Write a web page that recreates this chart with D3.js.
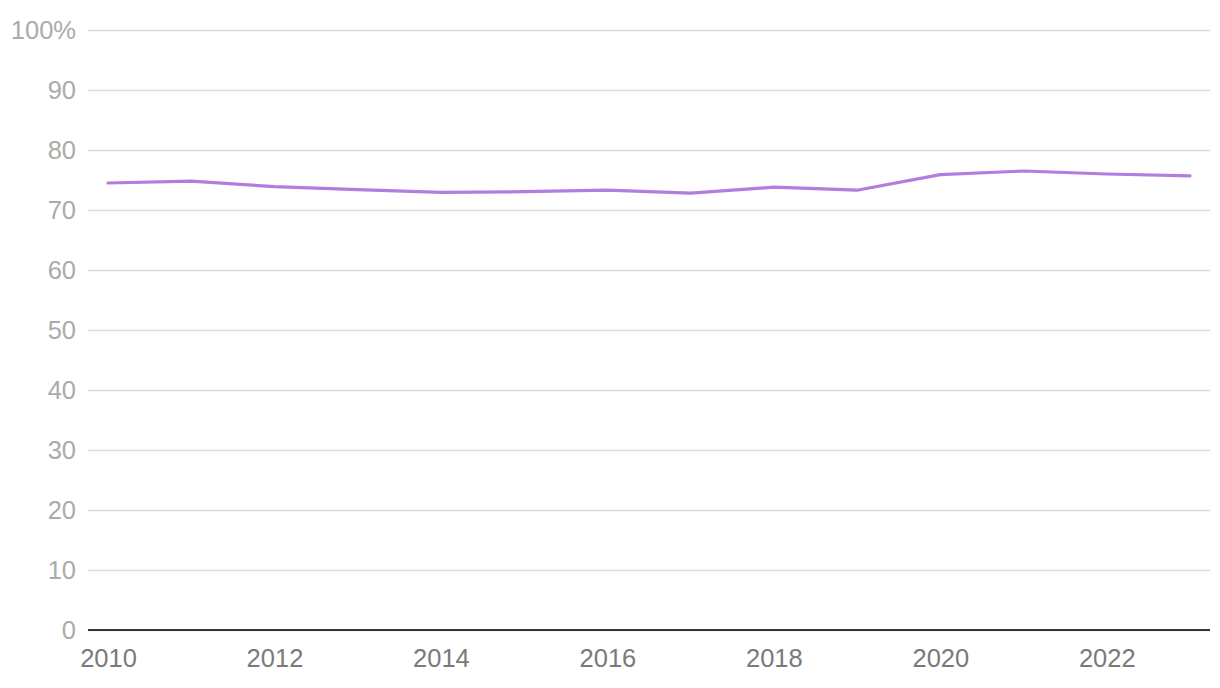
<!DOCTYPE html>
<html>
<head>
<meta charset="utf-8">
<script src="https://cdn.jsdelivr.net/npm/d3@7"></script>
<style>
  html, body { margin: 0; padding: 0; background: #fff; }
  svg { display: block; }
  text { font-family: "Liberation Sans", Helvetica, Arial, sans-serif; }
</style>
</head>
<body>
<svg id="chart" width="1220" height="688"></svg>
<script>
const years = [2010, 2011, 2012, 2013, 2014, 2015, 2016, 2017, 2018, 2019, 2020, 2021, 2022, 2023];
const values = [74.5, 74.8, 73.9, 73.4, 72.95, 73.05, 73.3, 72.8, 73.8, 73.3, 75.9, 76.5, 76.0, 75.7];
const yTicks = [0, 10, 20, 30, 40, 50, 60, 70, 80, 90, 100];
const xTicks = [2010, 2012, 2014, 2016, 2018, 2020, 2022];

const W = 1220, H = 688;
const m = { left: 88, right: 10, top: 30, bottom: 58 };
const svg = d3.select("#chart");

const x = d3.scaleLinear().domain([2010, 2023]).range([m.left + 20, W - m.right - 20]);
const y = d3.scaleLinear().domain([0, 100]).range([H - m.bottom, m.top]);

// gridlines
const yAxis = d3.axisLeft(y).tickValues(yTicks).tickSize(-(W - m.right - m.left))
  .tickFormat(d => d === 100 ? "100%" : d);
const gy = svg.append("g").attr("transform", `translate(${m.left},0)`).call(yAxis);
gy.select(".domain").remove();
gy.selectAll(".tick line").attr("stroke", "#dcdcdc").attr("stroke-width", 1.5);
gy.selectAll(".tick text").attr("x", -12).attr("fill", "#ababab")
  .attr("font-size", 25.5).attr("dy", "0.35em");

// baseline
const xAxis = d3.axisBottom(x).tickValues(xTicks).tickFormat(d3.format("d")).tickSize(0);
const gx = svg.append("g").attr("transform", `translate(0,${y(0)})`).call(xAxis);
gx.select(".domain").remove();
gx.selectAll(".tick text").attr("fill", "#7a7a7a").attr("font-size", 25.5).attr("y", 19).attr("dy", "0.71em");
svg.append("line").attr("x1", m.left).attr("x2", W - m.right).attr("y1", y(0)).attr("y2", y(0))
  .attr("stroke", "#333").attr("stroke-width", 2);

// line
const line = d3.line().x((d, i) => x(years[i])).y(d => y(d));
svg.append("path").datum(values).attr("d", line).attr("fill", "none")
  .attr("stroke", "#b27ddf").attr("stroke-width", 3.2)
  .attr("stroke-linejoin", "round").attr("stroke-linecap", "round");
</script>
</body>
</html>
